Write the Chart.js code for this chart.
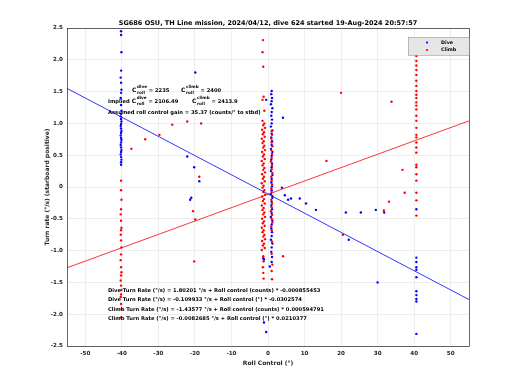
<!DOCTYPE html>
<html>
<head>
<meta charset="utf-8">
<script src="https://cdn.jsdelivr.net/npm/chart.js@4/dist/chart.umd.min.js"></script>
<style>html,body{margin:0;background:#fff}canvas{display:block}</style>
</head>
<body>
<canvas id="grafico" width="520" height="390"></canvas>
<script>
const tituloGrafico = "SG686 OSU, TH Line mission, 2024/04/12, dive 624 started 19-Aug-2024 20:57:57";
const xTicks = [-50, -40, -30, -20, -10, 0, 10, 20, 30, 40, 50];
const yTicks = [-2.5, -2, -1.5, -1, -0.5, 0, 0.5, 1, 1.5, 2, 2.5];

// Dive (blue) points: roll control (deg) and turn rate (deg/s)
const diveRoll = [
  -40.2, -40.2, -40.1, -40.2, -40.3, -40.2, -40.1, -40.2, -40.3, -40.2, -40.1, -40.2, -40.3, -40.2, -40.1, -40.2, -40.3,
  -40.2, -40.1, -40.2, -40.3, -40.2, -40.1, -40.2, -40.3, -40.2, -40.1, -40.2, -40.3, -40.2, -40.1, -40.2, -40.2,
  1.0, 0.9, 1.1, 1.0, 0.8, 1.2, 1.0, 0.9, 1.1, 1.0, 0.8, 1.2, 1.0, 0.9, 1.1, 1.0, 0.8, 1.2, 1.0, 0.9, 1.1, 1.0, 0.8,
  1.2, 1.0, 0.9, 1.1, 1.0, 0.8, 1.2, 1.0, 0.9, 1.1, 1.0, 0.8, 1.2, 1.0, 0.9, 1.1, 1.0, 0.8, 1.2, 1.0, 0.9, 1.1, 1.0,
  -0.5, -1.1, -1.3, 0.5, -1.1, -0.5, 4.1, 3.8, 4.6, 5.5, 6.3,
  8.7, 10.4, 13.1, 21.3, 25.4, 29.5, 31.8, 22.1, 30.0,
  -19.9, -22.1, -20.2, -18.8, -21.3, -21.0,
  40.6, 40.6, 40.6, 40.6, 40.6, 40.6, 40.6, 40.6, 40.6, 40.6, 40.6
];
const diveRate = [
  2.45, 2.39, 2.12, 1.83, 1.72, 1.64, 1.53, 1.48, 1.40, 1.29, 1.20, 1.15, 1.11, 1.07, 1.03, 0.99, 0.96,
  0.92, 0.88, 0.85, 0.81, 0.77, 0.74, 0.70, 0.66, 0.62, 0.58, 0.55, 0.51, 0.47, 0.43, 0.39, 0.35,
  1.51, 1.46, 1.40, 1.35, 1.30, 1.24, 1.18, 1.12, 1.06, 1.00, 0.95, 0.89, 0.84, 0.78, 0.72, 0.66, 0.60, 0.55, 0.49, 0.43, 0.37, 0.31, 0.25,
  0.19, 0.13, 0.07, 0.01, -0.05, -0.11, -0.17, -0.23, -0.29, -0.35, -0.41, -0.47, -0.53, -0.59, -0.65, -0.71, -0.77, -0.83, -0.89, -0.95, -1.02, -1.10, -1.18,
  1.37, -1.14, -1.12, -1.25, -2.13, -2.28, 1.09, -0.01, -0.13, -0.20, -0.18,
  -0.18, -0.26, -0.36, -0.40, -0.40, -0.36, -0.40, -0.83, -1.50,
  1.80, 0.48, 0.31, 0.09, -0.20, -0.17,
  -0.35, -1.11, -1.18, -1.26, -1.30, -1.42, -1.64, -1.70, -1.76, -1.80, -2.31
];

// Climb (red) points
const climbRoll = [
  -40.2, -40.2, -40.1, -40.2, -40.3, -40.2, -40.1, -40.2, -40.3, -40.2, -40.1, -40.2, -40.3, -40.2, -40.1, -40.2,
  -40.3, -40.2, -40.1, -40.2, -40.3, -40.2, -40.1, -40.2,
  -1.4, -1.5, -1.3, -1.2, -1.5, -1.0,
  -1.5, -1.0, -1.3, -0.8, -1.6, -1.1, -1.4, -0.9, -1.7, -1.2, -1.5, -1.0, -1.3, -0.8, -1.6, -1.1, -1.4, -0.9, -1.7, -1.2,
  -1.5, -1.0, -1.3, -0.8, -1.6, -1.1, -1.4, -0.9, -1.7, -1.2, -1.5, -1.0, -1.3, -0.8, -1.6, -1.1, -1.4, -0.9, -1.7, -1.2,
  -1.5, -1.0, -1.3, -0.8, -1.6, -1.1, -1.4, -0.9, -1.7, -1.2, -1.5, -1.0, -1.3, -0.8, -1.6, -1.1, -1.4, -0.9, -1.7,
  -1.3, -1.2, -1.4, -1.3, -1.2,
  1.0, 1.1, 0.9, 1.0, 1.2, 0.9, 1.1, 1.0, 0.8, 1.1, 1.0, 1.2, 0.9, 1.0, 1.1, 0.9, 1.0, 1.2, 0.9, 1.1, 1.0, 0.8, 1.1,
  1.0, 1.2, 0.9, 1.0, 1.1, 1.0, 1.2, 1.0, 1.1,
  -26.2, -22.1, -18.3, -33.6, -29.7, -37.4, -18.8, -20.5, -19.9, -20.2,
  4.1, 20.0, 16.0, 33.8, 36.8, 37.4, 33.1, 31.7, 20.5,
  40.6, 40.6, 40.6, 40.6, 40.6, 40.6, 40.6, 40.6, 40.6, 40.6, 40.6, 40.6, 40.6, 40.6,
  40.6, 40.6, 40.6, 40.6, 40.6, 40.6, 40.6, 40.6, 40.6, 40.6, 40.6, 40.6, 40.6, 40.6
];
const climbRate = [
  0.10, -0.05, -0.20, -0.35, -0.43, -0.53, -0.64, -0.68, -0.75, -0.84, -0.95, -1.06, -1.15, -1.26, -1.34, -1.39,
  -1.47, -1.55, -1.62, -1.69, -1.73, -1.84, -1.92, -2.05,
  2.31, 2.12, 1.89, 1.42, 1.37, 1.20,
  1.04, 1.00, 0.97, 0.93, 0.90, 0.86, 0.83, 0.79, 0.76, 0.72, 0.69, 0.65, 0.62, 0.58, 0.55, 0.51, 0.48, 0.44, 0.41, 0.37,
  0.34, 0.30, 0.27, 0.23, 0.20, 0.16, 0.13, 0.09, 0.06, 0.02, -0.01, -0.05, -0.08, -0.12, -0.15, -0.19, -0.22, -0.26, -0.29, -0.33,
  -0.36, -0.40, -0.43, -0.47, -0.50, -0.54, -0.57, -0.61, -0.64, -0.68, -0.71, -0.75, -0.78, -0.82, -0.85, -0.89, -0.92, -0.96, -0.99,
  -1.09, -1.17, -1.26, -1.35, -1.44,
  0.88, 0.82, 0.76, 0.70, 0.64, 0.58, 0.52, 0.46, 0.40, 0.34, 0.28, 0.22, 0.16, 0.10, 0.04, -0.02, -0.08, -0.14, -0.20, -0.26, -0.32, -0.38, -0.44,
  -0.50, -0.56, -0.62, -0.68, -0.86, -1.05, -1.22, -1.32, -1.45,
  0.98, 1.03, 1.00, 0.75, 0.82, 0.60, 0.16, -0.38, -0.51, -1.17,
  -1.09, 1.48, 0.41, 1.34, 0.27, -0.09, -0.23, -0.37, -0.75,
  2.06, 1.98, 1.91, 1.84, 1.76, 1.67, 1.59, 1.51, 1.45, 1.40, 1.33, 1.28, 1.22, 1.12,
  1.04, 0.93, 0.82, 0.78, 0.70, 0.62, 0.54, 0.35, 0.31, 0.20, 0.10, -0.09, -0.21, -0.45
];

// Fit lines (end points)
const fitRoll = [-55, 55];
const diveFitRate = [1.55, -1.77];
const climbFitRate = [-1.27, 1.04];

const pts = (xs, ys) => xs.map((x, i) => ({ x: x, y: ys[i] }));

const fam = "'DejaVu Sans', sans-serif";
const gris = '#262626';

const textos = {
  id: 'textos',
  afterDatasetsDraw(chart) {
    const ctx = chart.ctx;
    const a = chart.chartArea;
    ctx.save();
    // caja de ejes
    ctx.strokeStyle = gris;
    ctx.lineWidth = 0.7;
    ctx.strokeRect(a.left + 0.5, a.top + 0.5, a.right - a.left, a.bottom - a.top);

    ctx.fillStyle = '#000';
    ctx.textBaseline = 'alphabetic';
    ctx.textAlign = 'left';

    const grande = 'bold 5.2px ' + fam;
    const chica = 'bold 4.2px ' + fam;
    function cRoll(x, y, sup) {
      ctx.font = 'bold 6px ' + fam;
      ctx.fillText('C', x, y);
      const w = ctx.measureText('C').width + 0.6;
      ctx.font = chica;
      ctx.fillText(sup, x + w, y - 4);
      ctx.fillText('roll', x + w, y + 1.5);
      return x + w + Math.max(ctx.measureText(sup).width, ctx.measureText('roll').width);
    }
    let x = cRoll(132, 92, 'dive');
    ctx.font = grande; ctx.fillText(' = 2235', x, 92);
    x = cRoll(181, 92, 'climb');
    ctx.font = grande; ctx.fillText(' = 2400', x, 92);
    ctx.font = grande; ctx.fillText('Implied ', 108, 103);
    x = cRoll(108 + ctx.measureText('Implied ').width, 103, 'dive');
    ctx.font = grande; ctx.fillText(' = 2106.49', x, 103);
    x = cRoll(192, 103, 'climb');
    ctx.font = grande; ctx.fillText(' = 2413.9', x, 103);
    ctx.font = grande;
    ctx.fillText('Assumed roll control gain = 35.37 (counts/\u00b0 to stbd)', 108, 114);

    const ecuaciones = [
      'Dive Turn Rate (\u00b0/s) = 1.80201 \u00b0/s + Roll control (counts) * -0.000855453',
      'Dive Turn Rate (\u00b0/s) = -0.109933 \u00b0/s + Roll control (\u00b0) * -0.0302574',
      'Climb Turn Rate (\u00b0/s) = -1.43577 \u00b0/s + Roll control (counts) * 0.000594791',
      'Climb Turn Rate (\u00b0/s) = -0.0082685 \u00b0/s + Roll control (\u00b0) * 0.0210377'
    ];
    ecuaciones.forEach((t, i) => ctx.fillText(t, 108, 292 + i * 9.3));

    // titulo y ejes
    ctx.fillStyle = '#000';
    ctx.textAlign = 'center';
    ctx.font = 'bold 6.5px ' + fam;
    ctx.fillText(tituloGrafico, 268, 25);
    ctx.fillStyle = gris;
    ctx.font = 'bold 6px ' + fam;
    ctx.fillText('Roll Control (\u00b0)', 268, 365);
    ctx.save();
    ctx.translate(49, 187);
    ctx.rotate(-Math.PI / 2);
    ctx.fillText('Turn rate (\u00b0/s) (starboard positive)', 0, 0);
    ctx.restore();

    // leyenda
    ctx.fillStyle = '#e6e6e6';
    ctx.fillRect(408, 37, 61, 18);
    ctx.strokeStyle = '#9a9a9a';
    ctx.lineWidth = 0.6;
    ctx.strokeRect(408.5, 37.5, 61, 18);
    const items = [['Dive', '#0000ff', 42.5], ['Climb', '#ff0000', 50]];
    ctx.textAlign = 'left';
    ctx.textBaseline = 'middle';
    ctx.font = 'bold 4.8px ' + fam;
    items.forEach(([lab, col, yy]) => {
      ctx.fillStyle = col;
      ctx.beginPath(); ctx.arc(427, yy, 1.1, 0, Math.PI * 2); ctx.fill();
      ctx.fillStyle = '#000';
      ctx.fillText(lab, 441, yy);
    });
    ctx.restore();
  }
};

const ejeFont = { family: fam, size: 5.6, weight: 'bold' };

new Chart(document.getElementById('grafico').getContext('2d'), {
  type: 'scatter',
  data: {
    datasets: [
      { label: 'Dive', data: pts(diveRoll, diveRate), backgroundColor: '#0000ff', borderWidth: 0, pointRadius: 1.2, order: 2 },
      { label: 'Climb', data: pts(climbRoll, climbRate), backgroundColor: '#ff0000', borderWidth: 0, pointRadius: 1.2, order: 1 },
      { label: 'Dive fit', data: pts(fitRoll, diveFitRate), showLine: true, borderColor: '#0000ff', borderWidth: 0.8, pointRadius: 0, order: 0 },
      { label: 'Climb fit', data: pts(fitRoll, climbFitRate), showLine: true, borderColor: '#ff0000', borderWidth: 0.8, pointRadius: 0, order: 0 }
    ]
  },
  options: {
    responsive: false,
    animation: false,
    devicePixelRatio: 1,
    layout: { padding: { left: 39, top: 28, right: 51, bottom: 0 } },
    plugins: { legend: { display: false }, tooltip: { enabled: false } },
    scales: {
      x: {
        type: 'linear', min: -55, max: 55,
        afterBuildTicks: s => { s.ticks = xTicks.map(v => ({ value: v })); },
        afterFit: s => { s.height = 44; },
        grid: { color: '#e2e2e2', lineWidth: 0.6, drawTicks: false },
        border: { display: false },
        ticks: { padding: 4, font: ejeFont, color: gris, maxRotation: 0 }
      },
      y: {
        type: 'linear', min: -2.5, max: 2.5,
        afterBuildTicks: s => { s.ticks = yTicks.map(v => ({ value: v })); },
        afterFit: s => { s.width = 28; },
        grid: { color: '#e2e2e2', lineWidth: 0.6, drawTicks: false },
        border: { display: false },
        ticks: { padding: 4, font: ejeFont, color: gris }
      }
    }
  },
  plugins: [textos]
});
</script>
</body>
</html>
